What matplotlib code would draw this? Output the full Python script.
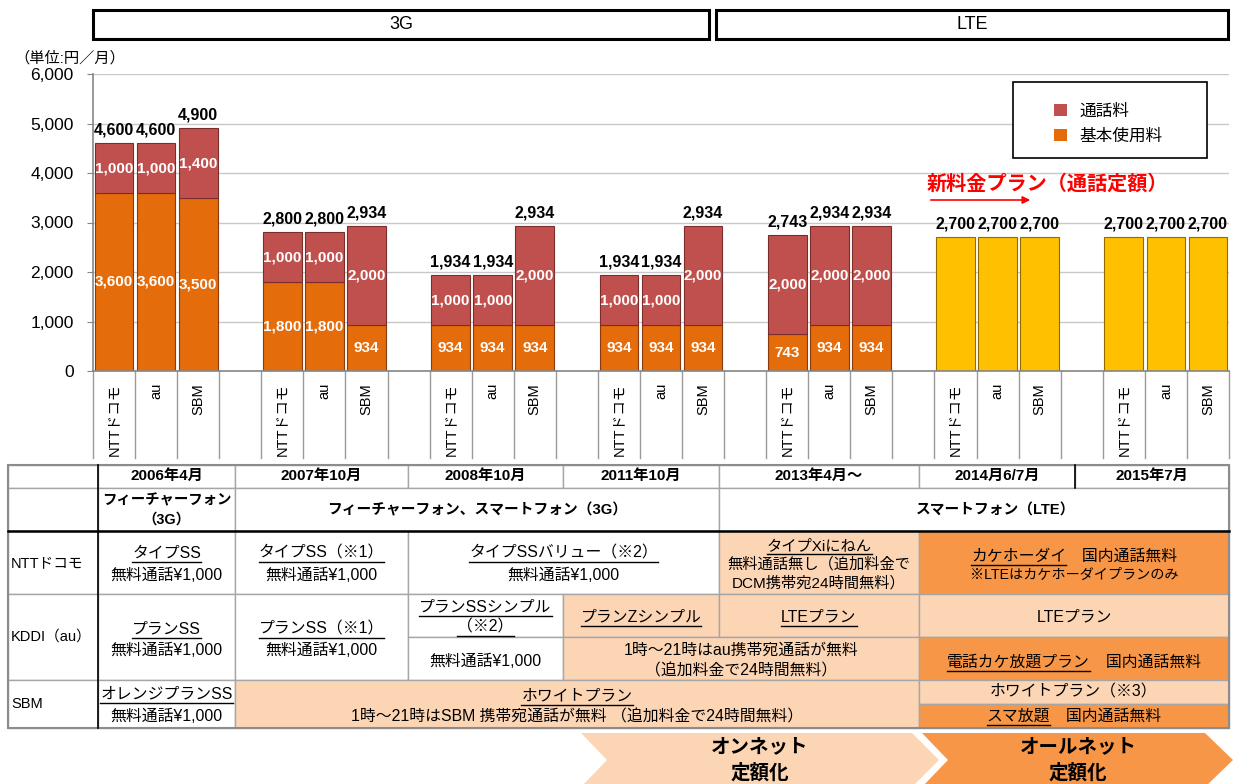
import matplotlib
matplotlib.use('Agg')
import matplotlib.pyplot as plt
import matplotlib.transforms as mtrans
from matplotlib.patches import Rectangle, Polygon, Patch
import numpy as np

plt.rcParams['font.family'] = ['Liberation Sans', 'Noto Sans CJK JP', 'DejaVu Sans']

# ---------------- data ----------------
carriers = ['NTTドコモ', 'au', 'SBM']
periods = ['2006年4月', '2007年10月', '2008年10月', '2011年10月', '2013年4月～', '2014月6/7月', '2015年7月']
base_fee = [[3600, 3600, 3500], [1800, 1800, 934], [934, 934, 934], [934, 934, 934], [743, 934, 934]]
call_fee = [[1000, 1000, 1400], [1000, 1000, 2000], [1000, 1000, 2000], [1000, 1000, 2000], [2000, 2000, 2000]]
flat_fee = [[2700, 2700, 2700], [2700, 2700, 2700]]
yticks = [0, 1000, 2000, 3000, 4000, 5000, 6000]
legend_labels = ['通話料', '基本使用料']

C_BASE = '#E46C0A'
C_CALL = '#C0504D'
C_FLAT = '#FFC000'
C_PEACH = '#FCD5B4'
C_ORANGE = '#F79646'
C_GRID = '#A6A6A6'

W, H = 1247, 784
fig = plt.figure(figsize=(W / 100, H / 100), dpi=100)

# main chart axes (pixel layout: x 93..1229, y 74..371)
ax = fig.add_axes([93 / W, 1 - 371 / H, (1229 - 93) / W, (371 - 74) / H])
n_slots = 4 * len(periods) - 1
ax.set_xlim(-0.5, n_slots - 0.5)
ax.set_ylim(0, 6000)
ax.set_yticks(yticks)
ax.set_yticklabels([f'{v:,}' for v in yticks], fontsize=12.5)
ax.tick_params(axis='y', length=4, color='#868686', pad=10)
ax.set_xticks([])
ax.yaxis.grid(True, color='#C8C8C8', lw=1)
ax.set_axisbelow(True)
for s in ['top', 'right']:
    ax.spines[s].set_visible(False)
for s in ['left', 'bottom']:
    ax.spines[s].set_color('#868686')
    ax.spines[s].set_linewidth(1.2)

bw = 0.92
for g in range(len(base_fee)):
    xs = np.arange(3) + 4 * g
    b = np.array(base_fee[g])
    c = np.array(call_fee[g])
    ax.bar(xs, b, width=bw, color=C_BASE, edgecolor='#8A3A0C', lw=0.8, zorder=2)
    ax.bar(xs, c, bottom=b, width=bw, color=C_CALL, edgecolor='#7A2E2C', lw=0.8, zorder=2)
    for x, bv, cv in zip(xs, b, c):
        ax.text(x, bv / 2, f'{bv:,}', ha='center', va='center', color='white',
                fontsize=11, fontweight='bold', zorder=3)
        ax.text(x, bv + cv / 2, f'{cv:,}', ha='center', va='center', color='white',
                fontsize=11, fontweight='bold', zorder=3)
        ax.annotate(f'{bv + cv:,}', (x, bv + cv), xytext=(0, 4), textcoords='offset points',
                    ha='center', va='bottom', fontsize=11.5, fontweight='bold')
for k in range(len(flat_fee)):
    g = len(base_fee) + k
    xs = np.arange(3) + 4 * g
    v = np.array(flat_fee[k])
    ax.bar(xs, v, width=bw, color=C_FLAT, edgecolor='#8F6B00', lw=0.8, zorder=2)
    for x, val in zip(xs, v):
        ax.annotate(f'{val:,}', (x, val), xytext=(0, 4), textcoords='offset points',
                    ha='center', va='bottom', fontsize=11.5, fontweight='bold')

# category label area under the axis
trans = mtrans.blended_transform_factory(ax.transData, ax.transAxes)
lab_depth = (458 - 371) / (371 - 74)
for bnd in np.arange(-0.5, n_slots, 1.0):
    ax.plot([bnd, bnd], [0, -lab_depth], transform=trans, color='#9A9A9A', lw=1, clip_on=False)
for g in range(len(periods)):
    for i, name in enumerate(carriers):
        ax.text(4 * g + i, -(383 - 371) / (371 - 74), name, transform=trans, rotation=90,
                ha='center', va='top', fontsize=10.5, clip_on=False)

# legend
ax.add_patch(Rectangle((1013 / W, 1 - 158 / H), 194 / W, 76 / H, transform=fig.transFigure,
                       facecolor='white', edgecolor='black', lw=1.2, zorder=4, clip_on=False))
handles = [Patch(facecolor=C_CALL), Patch(facecolor=C_BASE)]
leg = ax.legend(handles, legend_labels, loc='upper left', bbox_to_anchor=(1046 / W, 1 - 95 / H),
                bbox_transform=fig.transFigure, frameon=False, fontsize=12, handlelength=0.75,
                handleheight=0.75, handletextpad=0.75, labelspacing=0.6, borderpad=0)
leg.set_zorder(5)

# ---------------- overlay (pixel coordinates) ----------------
ov = fig.add_axes([0, 0, 1, 1])
ov.set_xlim(0, W)
ov.set_ylim(H, 0)
ov.axis('off')
ov.patch.set_alpha(0)

# 3G / LTE banners
for (x0, x1, lab) in [(93, 709, '3G'), (716, 1228, 'LTE')]:
    ov.add_patch(Rectangle((x0, 10), x1 - x0, 29, facecolor='white', edgecolor='black', lw=2.2))
    ov.text((x0 + x1) / 2, 24.5, lab, ha='center', va='center', fontsize=13)

ov.text(14, 58, '（単位:円／月）', ha='left', va='center', fontsize=11)

# new plan annotation
ov.text(927, 184, '新料金プラン（通話定額）', ha='left', va='center', fontsize=14.5,
        fontweight='bold', color='#FF0000')
ov.annotate('', xy=(1033, 200), xytext=(928, 200),
            arrowprops=dict(arrowstyle='-|>', color='#FF0000', lw=1.2, mutation_scale=11))

renderer = fig.canvas.get_renderer()


def rich_line(x, y, segs, fs=11, weight='normal', color='black'):
    texts = []
    for s, u in segs:
        t = ov.text(0, y, s, fontsize=fs, fontweight=weight, color=color, ha='left', va='center')
        texts.append((t, u))
    widths = [t.get_window_extent(renderer).width for t, _ in texts]
    cur = x - sum(widths) / 2
    for (t, u), w in zip(texts, widths):
        t.set_x(cur)
        if u:
            yy = y + fs * 1.389 * 0.55
            ov.plot([cur, cur + w], [yy, yy], color=color, lw=1)
        cur += w


def U(s):
    return [(s, True)]


def N(s):
    return [(s, False)]


FS = 11.4
cols = [8, 98, 235, 408, 563, 719, 919, 1075, 1229]

# cells: x0, x1, y0, y1, face, [(y, segs, fs, weight)]
cells = [
    (8, 98, 465, 488, 'white', []),
]
for i, p in enumerate(periods):
    cells.append((cols[i + 1], cols[i + 2], 465, 488, 'white', [(476, N(p), 11, 'bold')]))
cells += [
    (8, 98, 488, 531, 'white', []),
    (98, 235, 488, 531, 'white', [(500, N('フィーチャーフォン'), 10.4, 'bold'), (520, N('（3G）'), 10.4, 'bold')]),
    (235, 719, 488, 531, 'white', [(510, N('フィーチャーフォン、スマートフォン（3G）'), 10.6, 'bold')]),
    (719, 1229, 488, 531, 'white', []),
    # NTT row
    (8, 98, 531, 594, 'white', []),
    (98, 235, 531, 594, 'white', [(553, U('タイプSS'), FS, 'normal'), (575, N('無料通話¥1,000'), FS, 'normal')]),
    (235, 408, 531, 594, 'white', [(553, U('タイプSS（※1）'), FS, 'normal'), (575, N('無料通話¥1,000'), FS, 'normal')]),
    (408, 719, 531, 594, 'white', [(553, U('タイプSSバリュー（※2）'), FS, 'normal'), (575, N('無料通話¥1,000'), FS, 'normal')]),
    (719, 919, 531, 594, C_PEACH, [(546, U('タイプXiにねん'), 11, 'normal'),
                                   (564.5, N('無料通話無し（追加料金で'), 11, 'normal'),
                                   (583, N('DCM携帯宛24時間無料）'), 11, 'normal')]),
    (919, 1229, 531, 594, C_ORANGE, [(556, [('カケホーダイ', True), ('　国内通話無料', False)], FS, 'normal'),
                                     (575, N('※LTEはカケホーダイプランのみ'), 10.2, 'normal')]),
    # KDDI row
    (8, 98, 594, 680, 'white', []),
    (98, 235, 594, 680, 'white', [(629, U('プランSS'), FS, 'normal'), (650, N('無料通話¥1,000'), FS, 'normal')]),
    (235, 408, 594, 680, 'white', [(629, U('プランSS（※1）'), FS, 'normal'), (650, N('無料通話¥1,000'), FS, 'normal')]),
    (408, 563, 594, 637, 'white', [(607, U('プランSSシンプル'), FS, 'normal'), (627, U('（※2）'), FS, 'normal')]),
    (408, 563, 637, 680, 'white', [(661, N('無料通話¥1,000'), FS, 'normal')]),
    (563, 719, 594, 637, C_PEACH, [(617, U('プランZシンプル'), FS, 'normal')]),
    (719, 919, 594, 637, C_PEACH, [(617, U('LTEプラン'), FS, 'normal')]),
    (563, 919, 637, 680, C_PEACH, [(650, N('1時～21時はau携帯宛通話が無料'), FS, 'normal'),
                                   (671, N('（追加料金で24時間無料）'), FS, 'normal')]),
    (919, 1229, 594, 637, C_PEACH, [(617, N('LTEプラン'), FS, 'normal')]),
    (919, 1229, 637, 680, C_ORANGE, [(662, [('電話カケ放題プラン', True), ('　国内通話無料', False)], FS, 'normal')]),
    # SBM row
    (8, 98, 680, 728, 'white', []),
    (98, 235, 680, 728, 'white', [(694, U('オレンジプランSS'), FS, 'normal'), (716, N('無料通話¥1,000'), FS, 'normal')]),
    (235, 919, 680, 728, C_PEACH, [(696, U('ホワイトプラン'), FS, 'normal'),
                                   (717, N('1時～21時はSBM 携帯宛通話が無料 （追加料金で24時間無料）'), FS, 'normal')]),
    (919, 1229, 680, 704, C_PEACH, [(692, N('ホワイトプラン（※3）'), FS, 'normal')]),
    (919, 1229, 704, 728, C_ORANGE, [(716.5, [('スマ放題', True), ('　国内通話無料', False)], FS, 'normal')]),
]

for x0, x1, y0, y1, fc, lines in cells:
    ov.add_patch(Rectangle((x0, y0), x1 - x0, y1 - y0, facecolor=fc, edgecolor=C_GRID, lw=1))
for x0, x1, y0, y1, fc, lines in cells:
    for y, segs, fs, wt in lines:
        rich_line((x0 + x1) / 2, y, segs, fs, wt)

# header text spanning the LTE area
rich_line(996, 510, N('スマートフォン（LTE）'), 10.6, 'bold')

# row labels
for y, lab in [(563, 'NTTドコモ'), (637, 'KDDI（au）'), (704, 'SBM')]:
    ov.text(11, y, lab, ha='left', va='center', fontsize=10.5)

# strong lines
ov.plot([8, 1229], [531, 531], color='black', lw=1.8)
ov.plot([98, 98], [465, 728], color='black', lw=1.2)
ov.plot([1075, 1075], [465, 488], color='black', lw=1.2)
ov.add_patch(Rectangle((8, 465), 1229 - 8, 728 - 465, facecolor='none', edgecolor='#8C8C8C', lw=1.5))

# bottom chevrons
ov.add_patch(Polygon([(581, 733), (912, 733), (939, 760), (912, 787), (581, 787), (607, 760)],
                     closed=True, facecolor=C_PEACH, edgecolor='none'))
ov.add_patch(Polygon([(922, 733), (1205, 733), (1233, 760), (1205, 787), (922, 787), (948, 760)],
                     closed=True, facecolor=C_ORANGE, edgecolor='none'))
for x, t1 in [(760, 'オンネット'), (1078, 'オールネット')]:
    ov.text(x, 747, t1, ha='center', va='center', fontsize=14, fontweight='bold')
    ov.text(x, 773, '定額化', ha='center', va='center', fontsize=14, fontweight='bold')

fig.savefig('out.png', dpi=100)
